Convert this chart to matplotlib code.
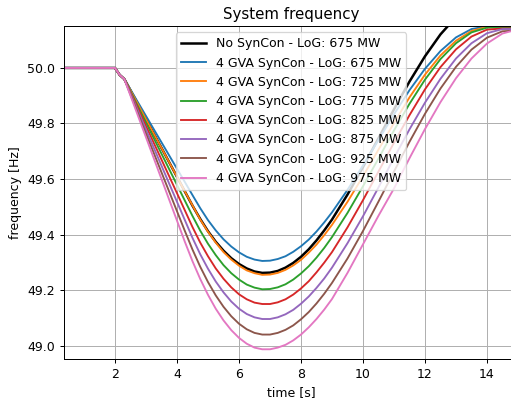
import matplotlib
matplotlib.use('Agg')
import matplotlib.pyplot as plt

# time axis [s]
t = [0.0, 2.0, 2.15, 2.3, 2.5, 3.0, 3.5, 4.0,
     4.25, 4.5, 4.75, 5.0, 5.25, 5.5, 5.75, 6.0, 6.25, 6.5, 6.75, 7.0,
     7.25, 7.5, 7.75, 8.0, 8.25, 8.5, 8.75, 9.0,
     9.5, 10.0, 10.5, 11.0, 11.5, 12.0, 12.5, 13.0, 13.5, 14.0, 14.5, 15.0]

# frequency [Hz]
f_nosc_675 = [50.0, 50.0, 49.975, 49.96,
              49.919, 49.815, 49.712, 49.608,
              49.556, 49.504, 49.456, 49.412, 49.374, 49.342, 49.315, 49.294, 49.278, 49.267, 49.262, 49.263,
              49.269, 49.281, 49.298, 49.320, 49.347, 49.379, 49.415, 49.454,
              49.544, 49.643, 49.747, 49.851, 49.951, 50.042, 50.121, 50.183, 50.226, 50.247, 50.25, 50.24]
f_sc_675 = [50.0, 50.0, 49.975, 49.96,
            49.922, 49.827, 49.732, 49.637,
            49.590, 49.542, 49.495, 49.452, 49.415, 49.383, 49.357, 49.336, 49.320, 49.310, 49.305, 49.306,
            49.312, 49.322, 49.338, 49.358, 49.382, 49.411, 49.444, 49.480,
            49.561, 49.649, 49.741, 49.833, 49.920, 49.997, 50.061, 50.110, 50.140, 50.150, 50.149, 50.147]
f_sc_725 = [50.0, 50.0, 49.975, 49.96,
            49.919, 49.815, 49.712, 49.608,
            49.556, 49.505, 49.454, 49.410, 49.371, 49.337, 49.310, 49.288, 49.271, 49.261, 49.255, 49.256,
            49.262, 49.273, 49.289, 49.309, 49.335, 49.364, 49.398, 49.435,
            49.518, 49.610, 49.706, 49.802, 49.894, 49.976, 50.045, 50.098, 50.133, 50.148, 50.148, 50.146]
f_sc_775 = [50.0, 50.0, 49.975, 49.96,
            49.915, 49.803, 49.691, 49.579,
            49.523, 49.467, 49.414, 49.367, 49.326, 49.290, 49.261, 49.238, 49.220, 49.209, 49.203, 49.204,
            49.210, 49.221, 49.238, 49.260, 49.286, 49.317, 49.352, 49.391,
            49.478, 49.574, 49.674, 49.775, 49.871, 49.958, 50.032, 50.089, 50.128, 50.145, 50.146, 50.145]
f_sc_825 = [50.0, 50.0, 49.975, 49.96,
            49.912, 49.791, 49.670, 49.549,
            49.488, 49.427, 49.371, 49.322, 49.278, 49.241, 49.210, 49.185, 49.167, 49.155, 49.150, 49.150,
            49.156, 49.167, 49.184, 49.206, 49.232, 49.264, 49.299, 49.337,
            49.426, 49.524, 49.627, 49.731, 49.830, 49.923, 50.003, 50.067, 50.113, 50.138, 50.142, 50.142]
f_sc_875 = [50.0, 50.0, 49.975, 49.96,
            49.908, 49.778, 49.648, 49.518,
            49.453, 49.388, 49.329, 49.277, 49.231, 49.192, 49.159, 49.133, 49.114, 49.102, 49.096, 49.096,
            49.102, 49.113, 49.129, 49.151, 49.177, 49.208, 49.242, 49.281,
            49.369, 49.466, 49.570, 49.676, 49.779, 49.875, 49.961, 50.034, 50.089, 50.125, 50.140, 50.140]
f_sc_925 = [50.0, 50.0, 49.975, 49.96,
            49.904, 49.764, 49.624, 49.484,
            49.414, 49.346, 49.284, 49.229, 49.181, 49.140, 49.106, 49.079, 49.059, 49.046, 49.040, 49.040,
            49.046, 49.057, 49.073, 49.095, 49.121, 49.152, 49.187, 49.226,
            49.314, 49.413, 49.519, 49.627, 49.734, 49.835, 49.926, 50.004, 50.066, 50.109, 50.132, 50.135]
f_sc_975 = [50.0, 50.0, 49.975, 49.96,
            49.900, 49.750, 49.600, 49.450,
            49.375, 49.304, 49.240, 49.183, 49.133, 49.091, 49.056, 49.028, 49.007, 48.993, 48.987, 48.987,
            48.993, 49.003, 49.019, 49.040, 49.066, 49.096, 49.130, 49.168,
            49.262, 49.365, 49.468, 49.566, 49.675, 49.780, 49.877, 49.963, 50.034, 50.088, 50.124, 50.139]

sc_series = [f_sc_675, f_sc_725, f_sc_775, f_sc_825, f_sc_875, f_sc_925, f_sc_975]
sc_labels = ['4 GVA SynCon - LoG: 675 MW', '4 GVA SynCon - LoG: 725 MW',
             '4 GVA SynCon - LoG: 775 MW', '4 GVA SynCon - LoG: 825 MW',
             '4 GVA SynCon - LoG: 875 MW', '4 GVA SynCon - LoG: 925 MW',
             '4 GVA SynCon - LoG: 975 MW']

fig = plt.figure(figsize=(511/90, 403/90), dpi=90)
ax = fig.add_axes([64/511, 44/403, 454/511, 333/403])

ax.plot(t, f_nosc_675, color='k', linewidth=2.0, label='No SynCon - LoG: 675 MW')
for i in range(len(sc_series)):
    ax.plot(t, sc_series[i], color='C%d' % i, linewidth=1.5, label=sc_labels[i])

ax.set_xlim(0.355, 15.0)
ax.set_ylim(48.952, 50.151)
ax.set_xticks([2, 4, 6, 8, 10, 12, 14])
ax.set_yticks([49.0, 49.2, 49.4, 49.6, 49.8, 50.0])
ax.grid(True)
ax.set_title('System frequency')
ax.set_xlabel('time [s]')
ax.set_ylabel('frequency [Hz]')
ax.legend(loc='upper center')

fig.savefig('out.png', dpi=90)
